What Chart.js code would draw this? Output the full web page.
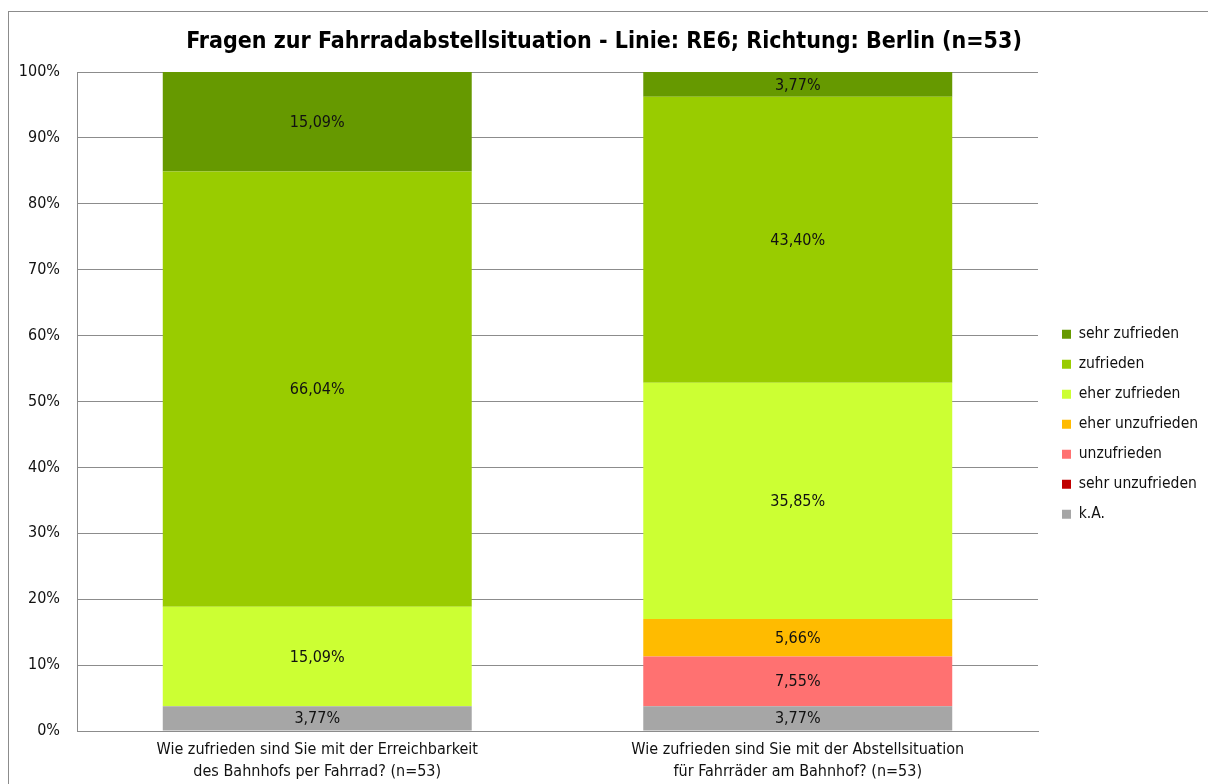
<!DOCTYPE html>
<html><head><meta charset="utf-8">
<script src="https://cdn.jsdelivr.net/npm/chart.js@4.4.0/dist/chart.umd.min.js"></script>
<style>html,body{margin:0;padding:0;background:#fff;overflow:hidden}#wrap{width:1208px;height:784px;position:relative}</style>
</head><body><div id="wrap"><canvas id="c" width="1208" height="784"></canvas></div>
<script>
const categories = [
  ["Wie zufrieden sind Sie mit der Erreichbarkeit", "des Bahnhofs per Fahrrad? (n=53)"],
  ["Wie zufrieden sind Sie mit der Abstellsituation", "für Fahrräder am Bahnhof? (n=53)"]
];
const seriesNames = ["k.A.", "sehr unzufrieden", "unzufrieden", "eher unzufrieden", "eher zufrieden", "zufrieden", "sehr zufrieden"];
const kA = [3.77, 3.77];
const sehrUnzufrieden = [0, 0];
const unzufrieden = [0, 7.55];
const eherUnzufrieden = [0, 5.66];
const eherZufrieden = [15.09, 35.85];
const zufrieden = [66.04, 43.40];
const sehrZufrieden = [15.09, 3.77];
const seriesColors = ["#A6A6A6", "#C00000", "#FF7171", "#FFBB00", "#CCFF33", "#99CC00", "#669900"];
const yTickValues = [0, 10, 20, 30, 40, 50, 60, 70, 80, 90, 100];
const titleText = "Fragen zur Fahrradabstellsituation - Linie: RE6; Richtung: Berlin (n=53)";

const FONT = "'DejaVu Sans Condensed', 'DejaVu Sans', sans-serif";
const seriesValues = [kA, sehrUnzufrieden, unzufrieden, eherUnzufrieden, eherZufrieden, zufrieden, sehrZufrieden];

const datasets = seriesNames.map((name, i) => ({
  label: name,
  data: seriesValues[i],
  backgroundColor: seriesColors[i],
  borderWidth: 0,
  barPercentage: 0.643,
  categoryPercentage: 1.0
}));

const fmt = v => v.toFixed(2).replace('.', ',') + '%';

const frameAndLabels = {
  id: 'frameAndLabels',
  beforeDraw(chart) {
    const ctx = chart.ctx;
    ctx.save();
    ctx.fillStyle = '#fff';
    ctx.fillRect(0, 0, chart.width, chart.height);
    ctx.strokeStyle = '#8c8c8c';
    ctx.lineWidth = 1;
    ctx.strokeRect(8.5, 11.5, 1400, 1000);
    ctx.restore();
  },
  afterDatasetsDraw(chart) {
    const ctx = chart.ctx;
    ctx.save();
    ctx.font = "16px " + FONT;
    ctx.fillStyle = '#111';
    ctx.textAlign = 'center';
    ctx.textBaseline = 'middle';
    chart.data.datasets.forEach((ds, di) => {
      const meta = chart.getDatasetMeta(di);
      meta.data.forEach((el, j) => {
        const v = ds.data[j];
        if (v > 0) {
          ctx.fillText(fmt(v), el.x, (el.y + el.base) / 2 + 1);
        }
      });
    });
    ctx.restore();
  }
};

const chart = new Chart(document.getElementById('c'), {
  type: 'bar',
  data: { labels: categories, datasets },
  plugins: [frameAndLabels],
  options: {
    responsive: false,
    animation: false,
    devicePixelRatio: 1,
    layout: { padding: { left: 0, right: 0, top: 0, bottom: 0 } },
    plugins: {
      title: {
        display: true,
        text: titleText,
        color: '#000',
        font: { family: FONT, size: 23, weight: 'bold', lineHeight: 1.2 },
        padding: { top: 28, bottom: 16.4 }
      },
      legend: {
        position: 'right',
        reverse: true,
        title: {
          display: true,
          text: ' ',
          font: { size: 10, lineHeight: 1.2 },
          padding: { top: 0, bottom: 52.5 }
        },
        labels: {
          boxWidth: 9,
          boxHeight: 9,
          padding: 14.5,
          color: '#111',
          font: { family: FONT, size: 15.5 }
        }
      },
      tooltip: { enabled: false }
    },
    scales: {
      x: {
        stacked: true,
        grid: { display: false, drawTicks: false },
        border: { color: '#8c8c8c' },
        ticks: {
          color: '#111',
          padding: 8,
          maxRotation: 0,
          autoSkip: false,
          font: { family: FONT, size: 16, lineHeight: 1.375 }
        },
        afterFit(s) { s.height = 53; }
      },
      y: {
        stacked: true,
        min: 0,
        max: 100,
        afterBuildTicks(s) { s.ticks = yTickValues.map(v => ({ value: v })); },
        grid: { color: '#8c8c8c', drawTicks: false },
        border: { color: '#8c8c8c' },
        ticks: {
          color: '#111',
          padding: 17,
          font: { family: FONT, size: 16 },
          callback: v => v + '%'
        },
        afterFit(s) { s.width = 77; }
      },
      yPad: {
        position: 'right',
        display: true,
        grid: { display: false, drawTicks: false },
        border: { display: false },
        ticks: { display: false },
        afterFit(s) { s.width = 9.5; }
      }
    }
  }
});

const origFit = chart.legend.fit;
chart.legend.fit = function () { origFit.call(this); this.width = 160.5; };
chart.update();
</script></body></html>
